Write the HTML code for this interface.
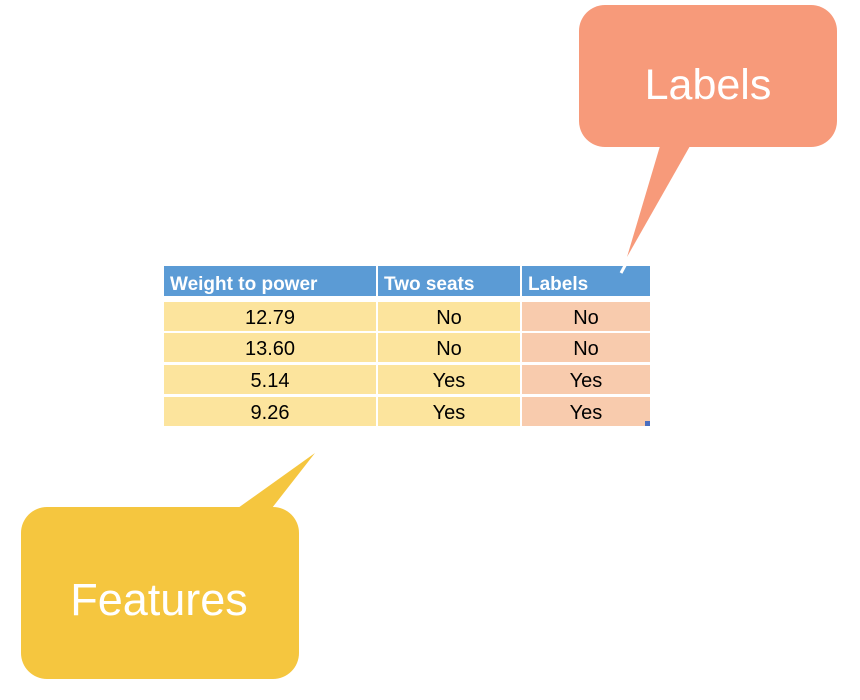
<!DOCTYPE html>
<html><head><meta charset="utf-8"><style>
body{margin:0;width:860px;height:700px;background:#fff;position:relative;overflow:hidden;font-family:"Liberation Sans",sans-serif}
svg{position:absolute;left:0;top:0}
.c{position:absolute;height:29px;line-height:33px;text-align:center;font-size:20px;color:#000}
.h{position:absolute;height:30px;line-height:38px;background:#5B9BD5;color:#fff;font-weight:bold;font-size:19px;padding-left:6px;box-sizing:border-box}
</style></head><body>
<svg width="860" height="700">
<g>
<rect x="579" y="5" width="258" height="142" rx="26" fill="#F79A7A"/>
<polygon points="660,146 690,146 627,257" fill="#F79A7A"/>
<text x="708" y="99" text-anchor="middle" font-size="43" fill="#fff" font-family="Liberation Sans, sans-serif">Labels</text>
</g>
<g>
<rect x="21" y="507" width="278" height="172" rx="26" fill="#F5C63F"/>
<polygon points="238,508 272,508 315,453" fill="#F5C63F"/>
<text x="159" y="615" text-anchor="middle" font-size="45" fill="#fff" font-family="Liberation Sans, sans-serif">Features</text>
</g>
</svg>
<div>
<div class="h" style="left:164px;top:266px;width:212px">Weight to power</div>
<div class="h" style="left:378px;top:266px;width:142px">Two seats</div>
<div class="h" style="left:522px;top:266px;width:128px">Labels</div>
<svg width="860" height="700" style="pointer-events:none"><line x1="628" y1="260" x2="621" y2="273" stroke="#fff" stroke-width="3"/></svg>

<div class="c" style="left:164px;top:302px;width:212px;background:#FCE49D">12.79</div>
<div class="c" style="left:378px;top:302px;width:142px;background:#FCE49D">No</div>
<div class="c" style="left:522px;top:302px;width:128px;background:#F8CBAD">No</div>

<div class="c" style="left:164px;top:333px;width:212px;background:#FCE49D">13.60</div>
<div class="c" style="left:378px;top:333px;width:142px;background:#FCE49D">No</div>
<div class="c" style="left:522px;top:333px;width:128px;background:#F8CBAD">No</div>

<div class="c" style="left:164px;top:365px;width:212px;background:#FCE49D">5.14</div>
<div class="c" style="left:378px;top:365px;width:142px;background:#FCE49D">Yes</div>
<div class="c" style="left:522px;top:365px;width:128px;background:#F8CBAD">Yes</div>

<div class="c" style="left:164px;top:397px;width:212px;background:#FCE49D">9.26</div>
<div class="c" style="left:378px;top:397px;width:142px;background:#FCE49D">Yes</div>
<div class="c" style="left:522px;top:397px;width:128px;background:#F8CBAD">Yes</div>
<div style="position:absolute;left:645px;top:421px;width:5px;height:5px;background:#4A6FC0"></div>
</div>
</body></html>
